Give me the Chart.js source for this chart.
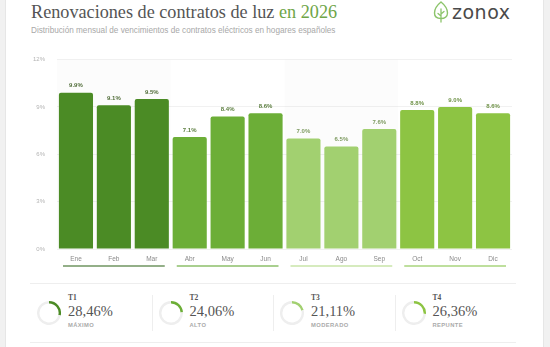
<!DOCTYPE html>
<html lang="es">
<head>
<meta charset="utf-8">
<title>Renovaciones de contratos de luz en 2026</title>
<script src="https://cdn.jsdelivr.net/npm/chart.js@4.4.1/dist/chart.umd.min.js"></script>
<style>
  html, body { margin: 0; padding: 0; background: #f1f1f1; }
  body { width: 550px; height: 347px; overflow: hidden; position: relative; font-family: "Liberation Sans", Arial, sans-serif; }
  .card { position: absolute; left: 5px; top: -10px; width: 537px; height: 370px; background: #fff; border: 1px solid #e6e6e6; }
  .title { position: absolute; left: 31px; top: 2px; font-family: "Liberation Serif", serif; font-size: 18.2px; color: #555; white-space: nowrap; }
  .title span { color: #6ea547; }
  .subtitle { position: absolute; left: 31px; top: 26px; font-size: 8.2px; color: #a8a8a8; white-space: nowrap; }
  .logo { position: absolute; left: 433px; top: 1px; display: flex; align-items: center; }
  .logo span { font-family: "DejaVu Sans", sans-serif; font-size: 19px; color: #4a4a4a; letter-spacing: 0.5px; margin-left: 3px; }
  #bars { position: absolute; left: 20px; top: 44px; }
  .rule { position: absolute; left: 30px; width: 486px; height: 1px; background: #eeeeee; }
  .stats { position: absolute; left: 30px; top: 284px; width: 486px; height: 58px; display: flex; }
  .stat { position: relative; width: 121.5px; height: 58px; }
  .stat + .stat::before { content: ""; position: absolute; left: 0; top: 11px; height: 36px; width: 1px; background: #eeeeee; }
  .stat canvas { position: absolute; left: 7px; top: 17px; }
  .stat .q { position: absolute; left: 38px; top: 9px; font-family: "Liberation Serif", serif; font-weight: bold; font-size: 7.5px; color: #555; }
  .stat .v { position: absolute; left: 38px; top: 19px; font-family: "Liberation Serif", serif; font-size: 14.5px; color: #555; }
  .stat .t { position: absolute; left: 38px; top: 38px; font-size: 5.8px; font-weight: bold; color: #aaa; letter-spacing: 0.4px; }
</style>
</head>
<body>
<div class="card"></div>
<div class="title">Renovaciones de contratos de luz <span>en 2026</span></div>
<div class="subtitle">Distribución mensual de vencimientos de contratos eléctricos en hogares españoles</div>
<div class="logo">
  <svg width="16" height="22" viewBox="0 0 16 22">
    <path d="M8 1 C3 5 1.5 9 1.5 12 C1.5 15.6 4.4 17.5 8 17.5 C11.6 17.5 14.5 15.6 14.5 12 C14.5 9 13 5 8 1 Z" fill="none" stroke="#8cc46a" stroke-width="1.4"/>
    <path d="M8 21 L8 8 M8 13 L11 10.5 M8 15 L5 12.5" fill="none" stroke="#8cc46a" stroke-width="1.3" stroke-linecap="round"/>
  </svg>
  <span>zonox</span>
</div>
<canvas id="bars" width="510" height="231"></canvas>
<div class="rule" style="top:283px"></div>
<div class="stats" id="stats"></div>
<div class="rule" style="top:342px"></div>

<script>
const months = ['Ene', 'Feb', 'Mar', 'Abr', 'May', 'Jun', 'Jul', 'Ago', 'Sep', 'Oct', 'Nov', 'Dic'];
const shares = [9.9, 9.1, 9.5, 7.1, 8.4, 8.6, 7.0, 6.5, 7.6, 8.8, 9.0, 8.6];
const yTicks = [0, 3, 6, 9, 12];

const quarters = ['T1', 'T2', 'T3', 'T4'];
const quarterTotals = [28.46, 24.06, 21.11, 26.36];
const quarterTags = ['MÁXIMO', 'ALTO', 'MODERADO', 'REPUNTE'];

// one colour set per quarter
const barColors = ['#4b8b25', '#6cae37', '#a2d070', '#8dc443'];
const labelColors = ['#4f6b37', '#5d7f41', '#7d9a60', '#6f9248'];
const lineColors = ['#6f9560', '#8cbf6a', '#c8e4a8', '#a9d47c'];
const bandColors = ['rgba(0,0,0,0.012)', 'rgba(0,0,0,0)', 'rgba(0,0,0,0.012)', 'rgba(0,0,0,0)'];

const q = i => Math.floor(i / 3);

// faint quarter bands behind the bars, quarter rules under the month labels
const quarterDecor = {
  id: 'quarterDecor',
  beforeDatasetsDraw(chart) {
    const { ctx, chartArea, scales: { x } } = chart;
    const step = x.getPixelForValue(1) - x.getPixelForValue(0);
    ctx.save();
    quarters.forEach((_, k) => {
      const left = x.getPixelForValue(k * 3) - step / 2;
      ctx.fillStyle = bandColors[k];
      ctx.fillRect(left, chartArea.top, step * 3, chartArea.bottom - chartArea.top);
    });
    ctx.restore();
  },
  afterDraw(chart) {
    const { ctx, chartArea, scales: { x } } = chart;
    const step = x.getPixelForValue(1) - x.getPixelForValue(0);
    ctx.save();
    ctx.lineWidth = 1.6;
    quarters.forEach((_, k) => {
      const left = x.getPixelForValue(k * 3) - step / 2;
      ctx.strokeStyle = lineColors[k];
      ctx.beginPath();
      ctx.moveTo(left + 6, chartArea.bottom + 17);
      ctx.lineTo(left + step * 3 - 6, chartArea.bottom + 17);
      ctx.stroke();
    });
    ctx.restore();
  }
};

// value labels above each bar
const valueLabels = {
  id: 'valueLabels',
  afterDatasetsDraw(chart) {
    const { ctx } = chart;
    const meta = chart.getDatasetMeta(0);
    ctx.save();
    ctx.font = 'bold 6px "Liberation Sans", Arial, sans-serif';
    ctx.textAlign = 'center';
    ctx.textBaseline = 'bottom';
    meta.data.forEach((bar, i) => {
      ctx.fillStyle = labelColors[q(i)];
      ctx.fillText(shares[i].toFixed(1) + '%', bar.x, bar.y - 4);
    });
    ctx.restore();
  }
};

new Chart(document.getElementById('bars'), {
  type: 'bar',
  data: {
    labels: months,
    datasets: [{
      data: shares,
      backgroundColor: shares.map((_, i) => barColors[q(i)]),
      borderRadius: { topLeft: 2, topRight: 2 },
      borderSkipped: 'bottom',
      barPercentage: 0.9,
      categoryPercentage: 1
    }]
  },
  options: {
    responsive: false,
    animation: false,
    layout: { padding: { top: 0, right: 18, bottom: 0, left: 0 } },
    scales: {
      y: {
        min: 0,
        max: 12,
        afterBuildTicks: axis => { axis.ticks = yTicks.map(v => ({ value: v })); },
        afterFit: axis => { axis.width = 37; },
        border: { display: false },
        grid: { color: '#f1f1f1', drawTicks: false },
        ticks: {
          padding: 12,
          color: '#b3b3b3',
          font: { size: 6, family: '"Liberation Sans", Arial, sans-serif' },
          callback: v => v + '%'
        }
      },
      x: {
        afterFit: axis => { axis.height = 26; },
        border: { display: false },
        grid: { display: false, drawTicks: false },
        ticks: {
          padding: 6,
          color: '#8a8a8a',
          font: { size: 6.5, family: '"Liberation Sans", Arial, sans-serif' }
        }
      }
    },
    plugins: {
      legend: { display: false },
      tooltip: { enabled: false }
    }
  },
  plugins: [quarterDecor, valueLabels]
});

// quarter summary: small ring per quarter plus figures
const stats = document.getElementById('stats');
quarters.forEach((name, k) => {
  const box = document.createElement('div');
  box.className = 'stat';
  box.innerHTML =
    '<canvas width="24" height="24"></canvas>' +
    '<div class="q">' + name + '</div>' +
    '<div class="v">' + quarterTotals[k].toFixed(2).replace('.', ',') + '%</div>' +
    '<div class="t">' + quarterTags[k] + '</div>';
  stats.appendChild(box);

  new Chart(box.querySelector('canvas'), {
    type: 'doughnut',
    data: {
      datasets: [{
        data: [quarterTotals[k], 100 - quarterTotals[k]],
        backgroundColor: [barColors[k], '#eeeeee'],
        borderWidth: 0
      }]
    },
    options: {
      responsive: false,
      animation: false,
      cutout: '80%',
      plugins: { legend: { display: false }, tooltip: { enabled: false } }
    }
  });
});
</script>
</body>
</html>
